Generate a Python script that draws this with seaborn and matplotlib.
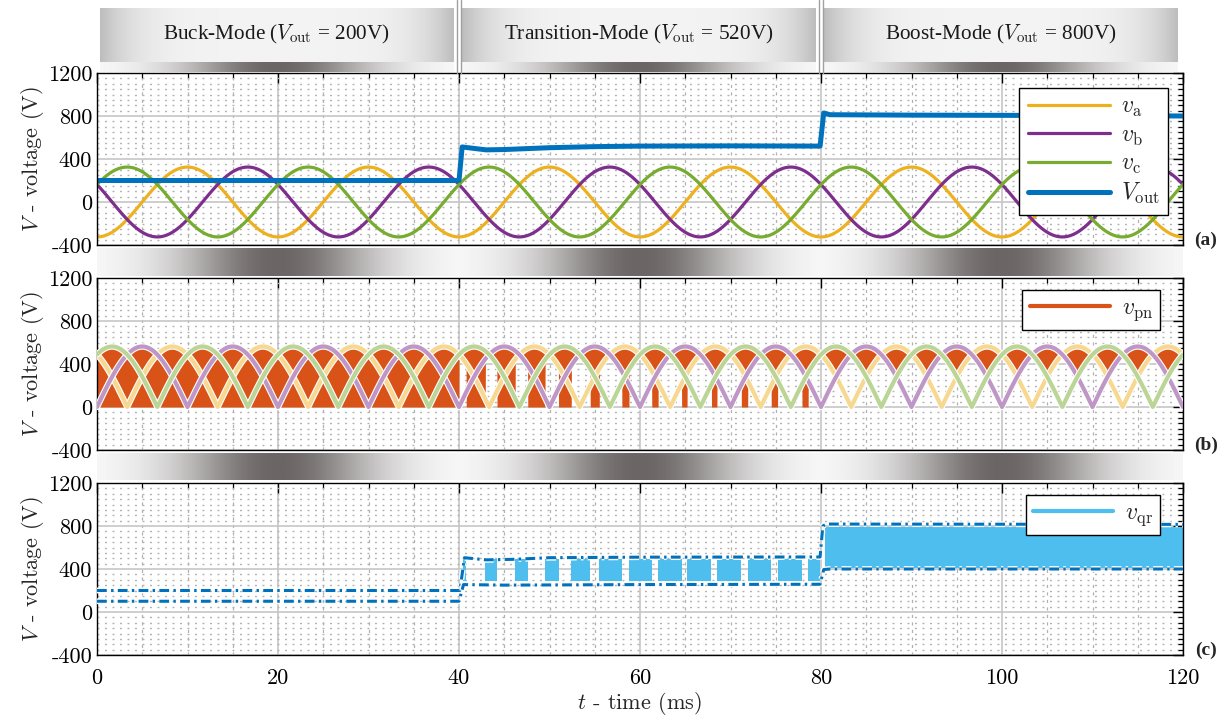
import numpy as np
import pandas as pd
import matplotlib
matplotlib.use("Agg")
import matplotlib.pyplot as plt
import matplotlib.patheffects as pe
from matplotlib.colors import LinearSegmentedColormap
from matplotlib.ticker import MultipleLocator
import seaborn as sns

# --- values ---
# three-phase grid (230 Vrms, 50 Hz); v_a starts at its negative peak
grid_freq_hz = 50
phase_peak_v = 325
phase_shift_deg = [0, -120, 120]
phase_labels = [r'$v_{\mathrm{a}}$', r'$v_{\mathrm{b}}$', r'$v_{\mathrm{c}}$']
phase_colors = ['#EDB120', '#7E2F8E', '#77AC30']
pale_colors = ['#F6D890', '#BE97C6', '#BBD597']

# operating modes
mode_names = ['Buck-Mode', 'Transition-Mode', 'Boost-Mode']
mode_vout = [200, 520, 800]
mode_edges = [0, 40, 80, 120]

# measured output voltage (panel a)
vout_t = [0, 40.0, 40.35, 41.0, 43.0, 45.0, 50.0, 55.0, 60.0, 70.0, 79.9, 80.3, 81.0, 90.0, 100.0, 110.0, 120.0]
vout_v = [200, 200, 512, 505, 485, 488, 505, 515, 520, 522, 520, 828, 812, 808, 806, 804, 800]

# buck pulses of v_pn down to 0 V during transition mode (ms)
pulse_start = [40.8, 44.2, 47.6, 51.0, 54.5, 58.0, 61.3, 64.6, 67.9, 71.2, 74.5, 77.9]
pulse_end = [42.9, 46.2, 49.5, 52.4, 55.5, 58.8, 62.0, 65.2, 68.5, 71.9, 75.2, 78.6]

# v_qr envelope (dash-dot) and band limits (panel c)
qr_upper_t = [0, 40.1, 40.6, 43.0, 46.0, 50.0, 60.0, 79.9, 80.2, 80.6, 120.0]
qr_upper_v = [200, 200, 505, 485, 490, 505, 510, 512, 800, 818, 815]
qr_lower_t = [0, 40.0, 40.5, 45.0, 60.0, 79.9, 80.3, 81.0, 120.0]
qr_lower_v = [100, 100, 255, 250, 255, 258, 395, 400, 400]
qr_band_lo = [285, 408]   # transition, boost
qr_band_hi = [493, 790]
qr_band_start = [40.4, 80.4]
qr_band_stop = [79.9, 120.0]

sns.set_theme(style="white")
plt.rcParams['font.family'] = ['cmr10', 'DejaVu Serif']
plt.rcParams['mathtext.fontset'] = 'cm'
plt.rcParams['axes.unicode_minus'] = False
plt.rcParams['axes.formatter.use_mathtext'] = False

# waveforms
t = np.linspace(0, 120, 6001)
w = 2 * np.pi * grid_freq_hz / 1000.0
v_ph = [-phase_peak_v * np.cos(w * t + np.deg2rad(s)) for s in phase_shift_deg]
v_ll = np.abs(np.array([v_ph[0] - v_ph[1], v_ph[1] - v_ph[2], v_ph[2] - v_ph[0]]))
env_max = v_ll.max(axis=0)
env_mid = np.median(v_ll, axis=0)

pn_low = np.where(t < mode_edges[1], 0.0, env_mid)
for s, e in zip(pulse_start, pulse_end):
    pn_low[(t >= s) & (t <= e)] = 0.0

fig = plt.figure(figsize=(12.32, 7.2), dpi=100)
L, W = 97 / 1232, (1183 - 97) / 1232
H = 172 / 720
ax1 = fig.add_axes([L, 1 - 245 / 720, W, H])
ax2 = fig.add_axes([L, 1 - 450 / 720, W, H])
ax3 = fig.add_axes([L, 1 - 655 / 720, W, H])

for ax in (ax1, ax2, ax3):
    ax.set_xlim(0, 120)
    ax.set_ylim(-400, 1200)
    ax.set_yticks([-400, 0, 400, 800, 1200])
    ax.set_xticks(np.arange(0, 121, 20))
    ax.xaxis.set_minor_locator(MultipleLocator(5))
    ax.yaxis.set_minor_locator(MultipleLocator(50))
    ax.set_axisbelow(True)
    ax.grid(which='major', color='#c6c6c6', linewidth=1.2, linestyle='-')
    ax.grid(which='minor', axis='y', color='#b2b2b2', linewidth=1.0, linestyle=(0, (1.4, 4.0)))
    ax.grid(which='minor', axis='x', color='#b2b2b2', linewidth=0.9, linestyle=(0, (2.5, 3.5)))
    ax.tick_params(which='both', direction='in', top=True, right=True, colors='black')
    ax.tick_params(which='major', length=7, width=1.0, labelsize=16)
    ax.tick_params(which='minor', length=3.5, width=0.9)
    for sp in ax.spines.values():
        sp.set_color('black')
        sp.set_linewidth(1.0)
    ax.set_ylabel(r'$V$ - voltage (V)', fontsize=16, labelpad=1)
ax1.tick_params(labelbottom=False)
ax2.tick_params(labelbottom=False)
ax3.tick_params(axis='x', which='major', pad=10)

# --- (a) phase voltages and output voltage ---
for v, lab, col in zip(v_ph, phase_labels, phase_colors):
    sns.lineplot(x=t, y=v, color=col, linewidth=2.3, label=lab, ax=ax1,
                 estimator=None, sort=False)
sns.lineplot(x=vout_t, y=vout_v, color='#0072BD', linewidth=3.6,
             label=r'$V_{\mathrm{out}}$', ax=ax1, estimator=None, sort=False)
leg = ax1.legend(loc='upper right', bbox_to_anchor=(0.986, 0.913), borderaxespad=0,
                 fontsize=17, handlelength=3.5, labelspacing=0.22, fancybox=False,
                 framealpha=1, edgecolor='black', borderpad=0.35, handletextpad=0.45)
leg.get_frame().set_linewidth(1.0)

# --- (b) rectified line voltages and v_pn ---
ax2.fill_between(t, pn_low, env_max, color='#D95319', linewidth=0, zorder=2)
stroke = [pe.Stroke(linewidth=4.6, foreground='white'), pe.Normal()]
for v, col in zip(v_ll, pale_colors):
    ax2.plot(t, v, color=col, linewidth=3.0, zorder=3, path_effects=stroke)
ax2.plot([], [], color='#D95319', linewidth=3.0, label=r'$v_{\mathrm{pn}}$')
leg = ax2.legend(loc='upper right', bbox_to_anchor=(0.979, 0.93), borderaxespad=0,
                 fontsize=17, handlelength=3.4, fancybox=False, framealpha=1,
                 edgecolor='black', borderpad=0.3, handletextpad=0.5)
leg.get_frame().set_linewidth(1.0)

# --- (c) v_qr band with envelope ---
blk_start = [qr_band_start[0]] + pulse_end
blk_stop = pulse_start + [qr_band_stop[0]]
for s, e in zip(blk_start, blk_stop):
    ax3.fill_between([s, e], qr_band_lo[0], qr_band_hi[0], color='#4DBEEE', linewidth=0, zorder=2)
ax3.fill_between([qr_band_start[1], qr_band_stop[1]], qr_band_lo[1], qr_band_hi[1],
                 color='#4DBEEE', linewidth=0, zorder=2)
dd = (0, (3.2, 1.4, 0.8, 1.4))
dstroke = [pe.Stroke(linewidth=4.2, foreground='white'), pe.Normal()]
ax3.plot(qr_upper_t, qr_upper_v, color='#0072BD', linewidth=2.2, linestyle=dd, zorder=3, path_effects=dstroke)
ax3.plot(qr_lower_t, qr_lower_v, color='#0072BD', linewidth=2.2, linestyle=dd, zorder=3, path_effects=dstroke)
ax3.plot([], [], color='#4DBEEE', linewidth=3.0, label=r'$v_{\mathrm{qr}}$')
leg = ax3.legend(loc='upper right', bbox_to_anchor=(0.979, 0.93), borderaxespad=0,
                 fontsize=17, handlelength=3.4, fancybox=False, framealpha=1,
                 edgecolor='black', borderpad=0.3, handletextpad=0.5)
leg.get_frame().set_linewidth(1.0)
ax3.set_xlabel(r'$t$ - time (ms)', fontsize=16, labelpad=1)

# --- gradient decorations ---
g = np.linspace(0, 1, 400)
strip_cmap = LinearSegmentedColormap.from_list('strip', ['#fbfbfb', '#6b6565'])
box_cmap = LinearSegmentedColormap.from_list('box', ['#f3f3f3', '#bdbdbd'])
strip_dark = np.exp(-0.5 * ((g - 0.5) / 0.19) ** 2)[np.newaxis, :]
box_dark = (np.abs(2 * g - 1) ** 5)[np.newaxis, :]

hax = fig.add_axes([L, 1 - 73 / 720, W, 73 / 720])
hax.set_xlim(0, 120)
hax.set_ylim(73, 0)
hax.axis('off')
for i, name in enumerate(mode_names):
    x0, x1 = mode_edges[i] + 0.35, mode_edges[i + 1] - 0.6
    hax.imshow(box_dark, cmap=box_cmap, vmin=0, vmax=1, aspect='auto',
               extent=[x0, x1, 62, 8], interpolation='bilinear')
    hax.imshow(strip_dark, cmap=strip_cmap, vmin=0, vmax=1, aspect='auto',
               extent=[x0, x1, 72, 62], interpolation='bilinear')
    hax.text((x0 + x1) / 2, 34, name + r' ($V_{\mathrm{out}}$ = ' + f'{mode_vout[i]}V)',
             ha='center', va='center', fontsize=15.3, family='Liberation Serif', color='#1a1a1a')
for xe in mode_edges[1:3]:
    for dx in (-0.2, 0.2):
        hax.plot([xe + dx, xe + dx], [0, 73], color='#a0a0a0', linewidth=1.0, clip_on=False)
hax.set_xlim(0, 120)

for ytop, ybot in ((248, 276), (453, 480)):
    sax = fig.add_axes([L, 1 - ybot / 720, W, (ybot - ytop) / 720])
    for i in range(3):
        sax.imshow(strip_dark, cmap=strip_cmap, vmin=0, vmax=1, aspect='auto',
                   extent=[mode_edges[i], mode_edges[i + 1], 0, 1], interpolation='bilinear')
    sax.set_xlim(0, 120)
    sax.set_ylim(0, 1)
    sax.axis('off')

for lab, ypx in (('(a)', 240), ('(b)', 445), ('(c)', 650)):
    fig.text(1206 / 1232, 1 - ypx / 720, lab, ha='center', va='center', fontsize=14,
             fontweight='bold', family='Liberation Serif')

fig.savefig('out.png', dpi=100)
